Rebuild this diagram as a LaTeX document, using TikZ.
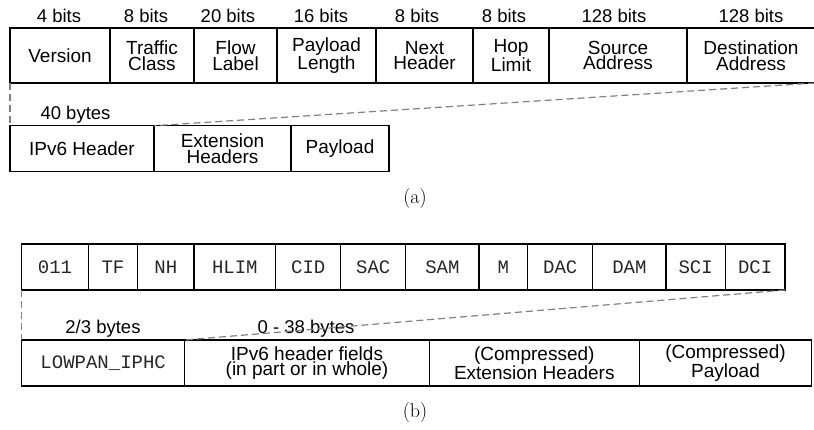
\documentclass[tikz,border=0pt]{standalone}
\usepackage{fontspec}
\setsansfont{Liberation Sans}
\setmonofont{Liberation Mono}
\usetikzlibrary{positioning}

\tikzset{
  field/.style={draw, line width=1.5pt, outer sep=0pt, inner sep=0pt, align=center,
    font=\sffamily\fontsize{19}{15.8}\selectfont},
  hdrfield/.style={field, minimum height=55pt},
  rowfield/.style={field, minimum height=46pt},
  codefield/.style={rowfield, text=black!85, font=\ttfamily\fontsize{19}{19}\selectfont},
  sizelbl/.style={anchor=base, inner sep=0pt, font=\sffamily\fontsize{18.5}{18.5}\selectfont},
  zoomline/.style={draw=gray, line width=1.2pt, dash pattern=on 7pt off 4pt},
  subcap/.style={font=\fontsize{20}{20}\selectfont}
}

\begin{document}
\begin{tikzpicture}[x=1pt,y=-1pt]
\useasboundingbox (0,0) rectangle (814,429);

% (a) IPv6 header and packet
\node[hdrfield,anchor=north west,minimum width=100pt] (ver) at (10,28) {Version};
\node[hdrfield,right=0pt of ver,minimum width=84pt] (tc) {Traffic\\Class};
\node[hdrfield,right=0pt of tc,minimum width=83pt] (fl) {Flow\\Label};
\node[hdrfield,right=0pt of fl,minimum width=99pt] (plen) {Payload\\Length};
\node[hdrfield,right=0pt of plen,minimum width=97pt] (nxt) {Next\\Header};
\node[hdrfield,right=0pt of nxt,minimum width=76pt] (hop) {Hop\\Limit};
\node[hdrfield,right=0pt of hop,minimum width=138pt] (src) {Source\\Address};
\node[hdrfield,right=0pt of src,minimum width=128pt] (dst) {Destination\\Address};

\node[sizelbl] (b1) at (59,22.5) {4 bits};
\node[sizelbl] (b2) at (146,22.5) {8 bits};
\node[sizelbl] (b3) at (228,22.5) {20 bits};
\node[sizelbl] (b4) at (321,22.5) {16 bits};
\node[sizelbl] (b5) at (417,22.5) {8 bits};
\node[sizelbl] (b6) at (504,22.5) {8 bits};
\node[sizelbl] (b7) at (614,22.5) {128 bits};
\node[sizelbl] (b8) at (751,22.5) {128 bits};

\node[rowfield,anchor=north west,minimum width=144pt] (ip6) at (10,125.7) {IPv6 Header};
\node[rowfield,right=0pt of ip6,minimum width=137pt] (ext) {Extension\\Headers};
\node[rowfield,right=0pt of ext,minimum width=98pt] (pay) {Payload};
\node[sizelbl] (len40) at (75.5,119) {40 bytes};

\draw[zoomline] (ver.south west) -- (ip6.north west);
\draw[zoomline] (dst.south east) -- (ip6.north east);

\node[subcap] (capa) at (415,199) {(a)};

% (b) LOWPAN_IPHC
\node[codefield,anchor=north west,minimum width=66.6pt] (disp) at (21.7,244) {011};
\node[codefield,right=0pt of disp,minimum width=49.4pt] (tf) {TF};
\node[codefield,right=0pt of tf,minimum width=56.3pt] (nh) {NH};
\node[codefield,right=0pt of nh,minimum width=81.7pt] (hlim) {HLIM};
\node[codefield,right=0pt of hlim,minimum width=65pt] (cid) {CID};
\node[codefield,right=0pt of cid,minimum width=65pt] (sac) {SAC};
\node[codefield,right=0pt of sac,minimum width=73.3pt] (sam) {SAM};
\node[codefield,right=0pt of sam,minimum width=48.7pt] (m) {M};
\node[codefield,right=0pt of m,minimum width=65pt] (dac) {DAC};
\node[codefield,right=0pt of dac,minimum width=73.3pt] (dam) {DAM};
\node[codefield,right=0pt of dam,minimum width=59.3pt] (sci) {SCI};
\node[codefield,right=0pt of sci,minimum width=59.7pt] (dci) {DCI};

\node[codefield,anchor=north west,minimum width=163pt] (iphc) at (21.7,340) {LOWPAN\_IPHC};
\node[rowfield,right=0pt of iphc,minimum width=244.6pt] (hfields) {IPv6 header fields\\(in part or in whole)};
\node[rowfield,right=0pt of hfields,minimum width=210pt] (cext) {(Compressed)\\Extension Headers};
\node[rowfield,right=0pt of cext,minimum width=172.4pt] (cpay) {(Compressed)\\Payload};
\node[sizelbl] (len23) at (103,333) {2/3 bytes};
\node[sizelbl] (len038) at (306,333) {0 - 38 bytes};

\draw[zoomline] (disp.south west) -- (iphc.north west);
\draw[zoomline] (dci.south east) -- (iphc.north east);

\node[subcap] (capb) at (415,413) {(b)};
\end{tikzpicture}
\end{document}
